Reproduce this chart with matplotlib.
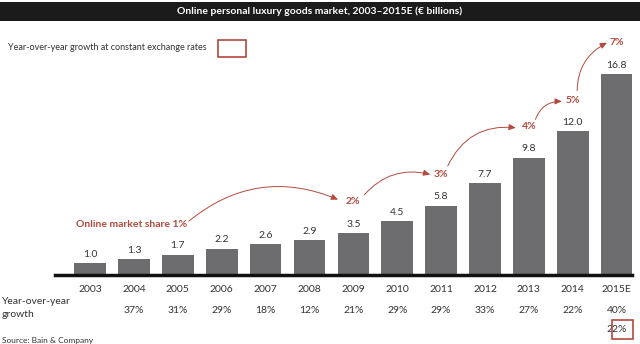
import matplotlib.pyplot as plt
from matplotlib.patches import Rectangle

years = ["2003", "2004", "2005", "2006", "2007", "2008", "2009",
         "2010", "2011", "2012", "2013", "2014", "2015E"]
market = [1.0, 1.3, 1.7, 2.2, 2.6, 2.9, 3.5, 4.5, 5.8, 7.7, 9.8, 12.0, 16.8]
growth = ["", "37%", "31%", "29%", "18%", "12%", "21%", "29%",
          "29%", "33%", "27%", "22%", "40%"]
growth_const_2015 = "22%"

share_labels = ["Online market share 1%", "2%", "3%", "4%", "5%", "7%"]
# label anchor (x in bar index, y in € bn) for the online share callouts
share_pos = [(2.2, 4.2), (6.0, 6.1), (8.0, 8.4), (10.0, 12.4), (11.0, 14.6), (12.0, 19.4)]
# arrow start/end points between consecutive callouts
arrow_pts = [((2.25, 4.5), (5.65, 6.3), -0.3),
             ((6.25, 6.7), (7.75, 8.4), -0.3),
             ((8.15, 9.1), (9.7, 12.3), -0.35),
             ((10.15, 13.0), (10.75, 14.5), -0.35),
             ((11.1, 15.4), (11.78, 19.4), -0.3)]

BAR = "#6d6d70"
RED = "#b4493d"
plt.rcParams["font.family"] = ["Lato", "DejaVu Sans"]

fig = plt.figure(figsize=(6.4, 3.44), dpi=100)
W, H = 640, 344
ax = fig.add_axes([55 / W, (H - 275) / H, (632 - 55) / W, (275 - 20) / H])

x = list(range(len(years)))
ax.bar(x, market, width=0.72, color=BAR, zorder=2)
for i, v in enumerate(market):
    ax.text(i, v + 0.35, f"{v:.1f}", ha="center", va="bottom", fontsize=7.5, color="#333333")

ax.set_xlim(-0.8, 12.35)
ax.set_ylim(0, 21.3)
for s in ["top", "right", "left"]:
    ax.spines[s].set_visible(False)
ax.spines["bottom"].set_linewidth(2.5)
ax.spines["bottom"].set_color("#111111")
ax.set_yticks([])
ax.set_xticks(x)
ax.set_xticklabels(years, fontsize=7.5, color="#333333")
ax.tick_params(axis="x", length=0, pad=7)

# online share callouts
ax.text(share_pos[0][0], share_pos[0][1], share_labels[0], ha="right", va="center",
        fontsize=7.5, color=RED, fontweight="bold")
for (px, py), lab in zip(share_pos[1:], share_labels[1:]):
    ax.text(px, py, lab, ha="center", va="center", fontsize=7.5, color=RED, fontweight="bold")
for start, end, rad in arrow_pts:
    ax.annotate("", xy=end, xytext=start,
                arrowprops=dict(arrowstyle="-|>,head_length=0.4,head_width=0.18",
                                connectionstyle=f"arc3,rad={rad}", color=RED, lw=0.7,
                                shrinkA=0, shrinkB=0))

# growth row
tr = ax.get_xaxis_transform()
for i, g in enumerate(growth):
    ax.text(i, -0.141, g, transform=tr, ha="center", va="center", fontsize=7.5, color="#333333")
ax.text(12, -0.215, growth_const_2015, transform=tr, ha="center", va="center",
        fontsize=7.5, color="#333333")
fig.patches.append(Rectangle((612 / W, (H - 339) / H), 21 / W, 19 / H, transform=fig.transFigure,
                             fill=False, edgecolor=RED, lw=1.2))
fig.text(2 / W, 1 - 297 / H, "Year-over-year\ngrowth", ha="left", va="top",
         fontsize=7.5, color="#333333", linespacing=1.6)

# title bar
fig.patches.append(Rectangle((0, 1 - 21 / H), 1, 19 / H, transform=fig.transFigure,
                             facecolor="#1b1b1b", edgecolor="none"))
fig.text(0.5, 1 - 11.5 / H, "Online personal luxury goods market, 2003\u20132015E (\u20ac billions)",
         ha="center", va="center", fontsize=7.5, color="white", fontweight="bold")

# legend
fig.text(8 / W, 1 - 48 / H, "Year-over-year growth at constant exchange rates",
         ha="left", va="center", fontsize=6.5, color="#333333")
fig.patches.append(Rectangle((218 / W, 1 - 57 / H), 28 / W, 17 / H, transform=fig.transFigure,
                             fill=False, edgecolor=RED, lw=1.2))

fig.text(2 / W, 1 - 340 / H, "Source: Bain & Company", ha="left", va="center",
         fontsize=6, color="#333333")

fig.savefig("out.png", dpi=100, facecolor="white")
